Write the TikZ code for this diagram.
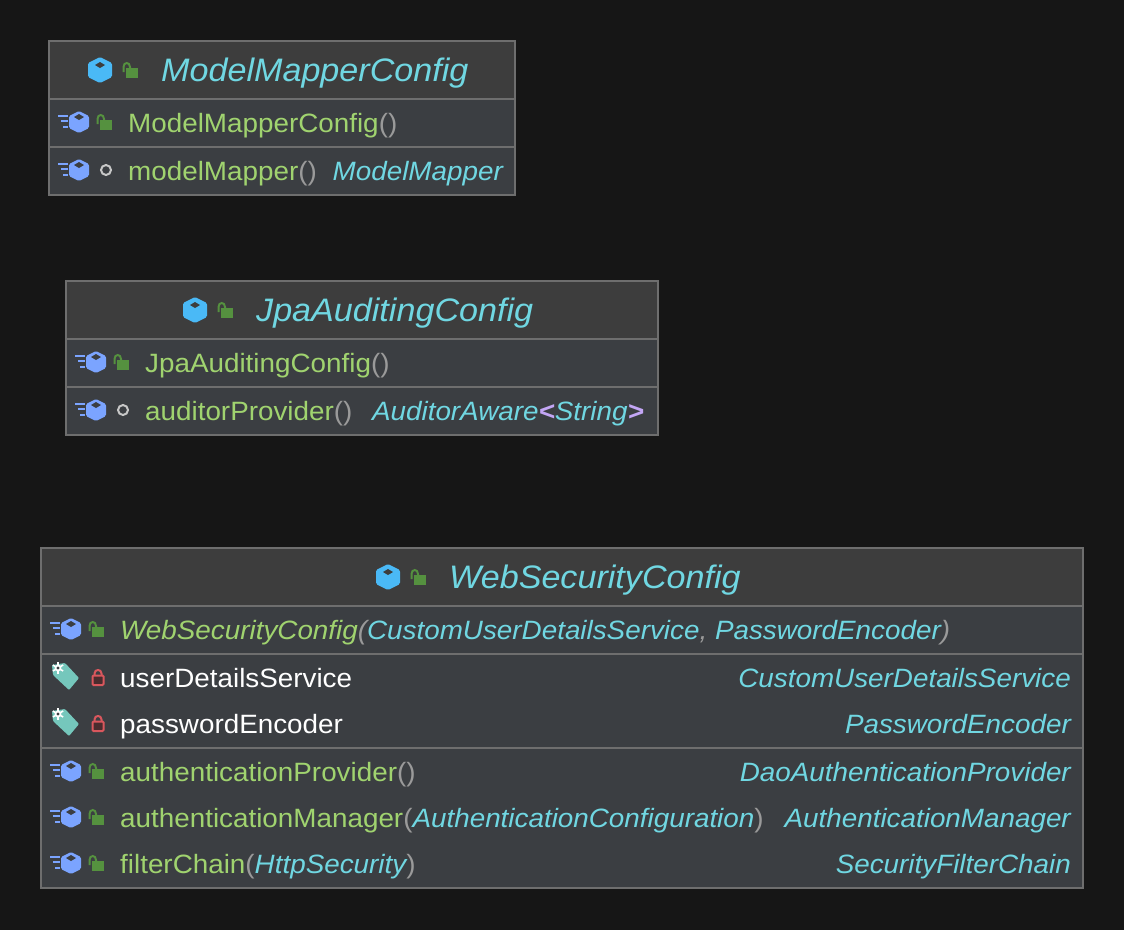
\documentclass[tikz,border=0pt]{standalone}
\usepackage{fontspec}
\setmainfont[FakeStretch=1.05]{Liberation Sans}
\definecolor{pagebg}{HTML}{161616}
\definecolor{headbg}{HTML}{3D3D3D}
\definecolor{bodybg}{HTML}{3B3E42}
\definecolor{rule}{HTML}{6E6E6E}
\definecolor{cls}{HTML}{4AB9F6}
\definecolor{mth}{HTML}{7BA4FF}
\definecolor{unl}{HTML}{55913F}
\definecolor{tagc}{HTML}{75C7BC}
\definecolor{lck}{HTML}{D9575D}
\definecolor{lckin}{HTML}{4A2C2E}
\definecolor{cyn}{HTML}{70D7E2}
\definecolor{grn}{HTML}{A0D36F}
\definecolor{pnc}{HTML}{9A9A9A}
\definecolor{gen}{HTML}{C3A6F5}
\newcommand{\pn}[1]{\textcolor{pnc}{#1}}
\newcommand{\ty}[1]{\textcolor{cyn}{\itshape #1}}
\begin{document}
\begin{tikzpicture}[x=1pt,y=-1pt]
 \tikzset{
  classbox/.style={rectangle, draw=rule, line width=1.2pt, fill=bodybg, inner sep=0pt, outer sep=0pt},
  headbox/.style={rectangle, fill=headbg, inner sep=0pt, outer sep=0pt},
  sep/.style={draw=rule, line width=1.8pt},
  ttl/.style={anchor=base west, inner sep=0pt, text=cyn, font=\fontsize{32.5}{33}\selectfont\itshape},
  mem/.style={anchor=base west, inner sep=0pt, text=grn, font=\fontsize{26.5}{30}\selectfont},
  fld/.style={mem, text=white},
  typ/.style={anchor=base east, inner sep=0pt, text=cyn, font=\fontsize{26.5}{30}\selectfont\itshape},
  classicon/.pic={
   \fill [cls, rounded corners=1.5pt] (0,-13) -- (12,-7) -- (12,7) -- (0,13) -- (-12,7) -- (-12,-7) -- cycle;
   \fill [headbg] (0,-8) -- (5,-5) -- (0,-2) -- (-5,-5) -- cycle;
  },
  methodicon/.pic={
   \fill [mth, rounded corners=1.5pt] (0,-11) -- (10,-6) -- (10,6) -- (0,11) -- (-10,6) -- (-10,-6) -- cycle;
   \fill [bodybg] (0,-8) -- (5,-5) -- (0,-2) -- (-5,-5) -- cycle;
   \draw [mth, line width=1.7pt] (-21,-6) -- (-11,-6) (-18,-1) -- (-11,-1) (-16,5) -- (-11,5);
  },
  unlockicon/.pic={
   \fill [unl] (-6,-5) rectangle (6,5);
   \draw [unl, line width=2pt] (-8.5,-1) -- (-8.5,-6) .. controls (-8.5,-11.3) and (-2,-11.3) .. (-2,-6) -- (-2,-4);
  },
  pkgdot/.pic={ \draw [white!78!black, line width=2pt] (0,0) circle (5); },
  lockicon/.pic={
   \fill [lckin] (-5.5,-4.5) rectangle (5.5,5);
   \draw [lck, line width=2pt, rounded corners=1pt] (-5.5,-4.5) rectangle (5.5,5);
   \draw [lck, line width=2pt] (-3.5,-4.5) -- (-3.5,-6.5) .. controls (-3.5,-11.2) and (3.5,-11.2) .. (3.5,-6.5) -- (3.5,-4.5);
  },
  tagicon/.pic={
   \fill [tagc, rounded corners=1pt] (-13,-12) -- (0,-14) -- (14,1) -- (4,13) -- (-12,-2) -- cycle;
   \foreach \a in {30,90,150} { \draw [white, line width=1.6pt] (-7,-9) ++(\a:6) -- ++(\a+180:12); }
   \fill [white] (-7,-9) circle (3.4);
   \fill [bodybg] (-7,-9) circle (1.7);
  }
 }
 \fill [pagebg] (0,0) rectangle (1124,930);

 \node [classbox, minimum width=466, minimum height=154] (mapperBox) at (282,118) {};
 \node [classbox, minimum width=592, minimum height=154] (auditBox) at (362,358) {};
 \node [classbox, minimum width=1042, minimum height=340] (secBox) at (562,718) {};
 \foreach \bx/\bw in {mapperBox/466, auditBox/592, secBox/1042} {
  \node [headbox, minimum width={\bw-1.2}, minimum height=57.4, anchor=north] (\bx Head) at ([yshift=-0.6pt]\bx.north) {};
  \draw [sep] (\bx Head.south -| \bx.west) -- (\bx Head.south -| \bx.east);
 }
 \draw [sep] (mapperBox.west |- 0,147) -- (mapperBox.east |- 0,147);
 \draw [sep] (auditBox.west |- 0,387) -- (auditBox.east |- 0,387);
 \draw [sep] (secBox.west |- 0,654) -- (secBox.east |- 0,654);
 \draw [sep] (secBox.west |- 0,748) -- (secBox.east |- 0,748);

 % titles
 \foreach \nm/\x/\y/\txt in {mapperTitle/100/70/ModelMapperConfig, auditTitle/195/310/JpaAuditingConfig, secTitle/388/577/WebSecurityConfig} {
  \pic at (\x,\y) {classicon};
  \pic at (\x+32,\y+3) {unlockicon};
  \node [ttl] (\nm) at (\x+61,\y+11.7) {\txt};
 }

 % methods, open lock or dot
 \foreach \nm/\x/\y/\txt in {
   mapperCtor/79/122/{ModelMapperConfig\pn{()}},
   auditCtor/96/362/{JpaAuditingConfig\pn{()}},
   secProvider/71/771/{authenticationProvider\pn{()}},
   secManager/71/817/{authenticationManager\pn{(}\ty{AuthenticationConfiguration}\pn{)}},
   secChain/71/863/{filterChain\pn{(}\ty{HttpSecurity}\pn{)}}} {
  \pic at (\x,\y) {methodicon};
  \pic at (\x+27,\y+3) {unlockicon};
  \node [mem] (\nm) at (\x+49,\y+10) {\txt};
 }
 \foreach \nm/\x/\y/\txt in {mapperBean/79/170/{modelMapper\pn{()}}, auditBean/96/410/{auditorProvider\pn{()}}} {
  \pic at (\x,\y) {methodicon};
  \pic at (\x+27,\y) {pkgdot};
  \node [mem] (\nm) at (\x+49,\y+10) {\txt};
 }
 \pic at (71,629) {methodicon};
 \pic at (98,632) {unlockicon};
 \node [mem] (secCtor) at (120,639) {\itshape WebSecurityConfig\pn{(}\ty{CustomUserDetailsService}\pn{, }\ty{PasswordEncoder}\pn{)}};

 % fields
 \foreach \nm/\y/\txt in {secUser/677/userDetailsService, secEnc/723/passwordEncoder} {
  \pic at (65,\y) {tagicon};
  \pic at (98,\y+3) {lockicon};
  \node [fld] (\nm) at (120,\y+10) {\txt};
 }

 % types
 \foreach \nm/\x/\y/\txt in {
   mapperType/503/180/ModelMapper,
   auditType/644/420/{AuditorAware\textcolor{gen}{\bfseries<}String\textcolor{gen}{\bfseries>}},
   secUserType/1071/687/CustomUserDetailsService,
   secEncType/1071/733/PasswordEncoder,
   secProviderType/1071/781/DaoAuthenticationProvider,
   secManagerType/1071/827/AuthenticationManager,
   secChainType/1071/873/SecurityFilterChain} {
  \node [typ] (\nm) at (\x,\y) {\txt};
 }
\end{tikzpicture}
\end{document}
